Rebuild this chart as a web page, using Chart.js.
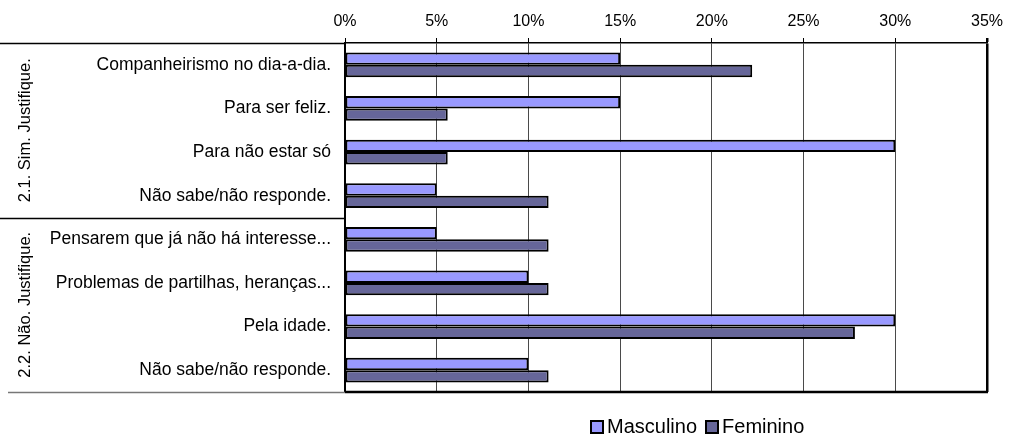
<!DOCTYPE html>
<html>
<head>
<meta charset="utf-8">
<script src="https://cdn.jsdelivr.net/npm/chart.js@4/dist/chart.umd.min.js"></script>
<style>
  html, body { margin: 0; padding: 0; background: #fff; }
  #wrap { position: relative; width: 1011px; height: 440px; }
  #legend {
    position: absolute; left: 590px; top: 415px;
    font: 20px "Liberation Sans", Arial, sans-serif; color: #000;
    display: flex; align-items: center; white-space: nowrap;
  }
  #legend .box {
    display: inline-block; width: 10px; height: 10px;
    border: 2px solid #000; margin-right: 3px;
  }
  #legend .item { display: inline-flex; align-items: center; margin-right: 8px; }
</style>
</head>
<body>
<div id="wrap">
  <canvas id="chart" width="1011" height="440"></canvas>
  <div id="legend"></div>
</div>
<script>
// categories, top to bottom
const categories = [
  "Companheirismo no dia-a-dia.",
  "Para ser feliz.",
  "Para não estar só",
  "Não sabe/não responde.",
  "Pensarem que já não há interesse...",
  "Problemas de partilhas, heranças...",
  "Pela idade.",
  "Não sabe/não responde."
];
// group labels and how many categories each one spans
const groupLabels = ["2.1. Sim. Justifique.", "2.2. Não. Justifique."];
const groupSizes = [4, 4];

const seriesNames = ["Masculino", "Feminino"];
const masculino = [15, 15, 30, 5, 5, 10, 30, 10];
const feminino = [22.2, 5.6, 5.6, 11.1, 11.1, 11.1, 27.8, 11.1];

const xTicks = [0, 5, 10, 15, 20, 25, 30, 35];
const colors = ["#9999FF", "#666699"];

const FONT = '"Liberation Sans", Arial, sans-serif';

// group separator lines and the rotated group titles on the left
const groupPlugin = {
  id: "groups",
  afterDraw(chart) {
    const ctx = chart.ctx;
    const y = chart.scales.y;
    const area = chart.chartArea;
    const half = (y.getPixelForValue(1) - y.getPixelForValue(0)) / 2;
    ctx.save();
    ctx.strokeStyle = "#000";
    ctx.lineWidth = 1.5;
    let start = 0;
    const bounds = [area.top];
    groupSizes.forEach((n, i) => {
      const top = y.getPixelForValue(start) - half;
      const bottom = y.getPixelForValue(start + n - 1) + half;
      bounds.push(bottom);
      ctx.save();
      ctx.translate(25, (top + bottom) / 2);
      ctx.rotate(-Math.PI / 2);
      ctx.fillStyle = "#000";
      ctx.font = "16.5px " + FONT;
      ctx.textAlign = "center";
      ctx.textBaseline = "middle";
      ctx.fillText(groupLabels[i], 0, 0);
      ctx.restore();
      start += n;
    });
    bounds.forEach((b, i) => {
      ctx.beginPath();
      ctx.strokeStyle = i === bounds.length - 1 ? "#777" : "#000";
      ctx.moveTo(i === bounds.length - 1 ? 8 : 0, Math.round(b) + 0.5);
      ctx.lineTo(area.left, Math.round(b) + 0.5);
      ctx.stroke();
    });
    // bottom border of plot
    ctx.beginPath();
    ctx.strokeStyle = "#000";
    ctx.lineWidth = 2.5;
    ctx.moveTo(area.left, area.bottom);
    ctx.lineTo(area.right + 1, area.bottom);
    ctx.stroke();
    ctx.restore();
  }
};

new Chart(document.getElementById("chart"), {
  type: "bar",
  data: {
    labels: categories,
    datasets: [
      {
        label: seriesNames[0],
        data: masculino,
        backgroundColor: colors[0],
        borderColor: "#000",
        borderWidth: 2,
        borderSkipped: false,
        categoryPercentage: 0.57,
        barPercentage: 1.0
      },
      {
        label: seriesNames[1],
        data: feminino,
        backgroundColor: colors[1],
        borderColor: "#000",
        borderWidth: 2,
        borderSkipped: false,
        categoryPercentage: 0.57,
        barPercentage: 1.0
      }
    ]
  },
  options: {
    indexAxis: "y",
    responsive: false,
    animation: false,
    layout: { padding: { top: 0, right: 24, bottom: 48, left: 0 } },
    plugins: {
      legend: { display: false },
      tooltip: { enabled: false }
    },
    scales: {
      x: {
        position: "top",
        min: 0,
        max: 35,
        afterBuildTicks: (scale) => {
          scale.ticks = xTicks.map((v) => ({ value: v }));
        },
        afterFit: (scale) => { scale.height = 43; },
        ticks: {
          color: "#000",
          font: { family: FONT, size: 16 },
          padding: 7,
          maxRotation: 0,
          callback: (v) => v + "%"
        },
        grid: {
          color: (c) => (c.tick && c.tick.value === 35 ? "#000" : "#4a4a4a"),
          lineWidth: (c) => (c.tick && c.tick.value === 35 ? 2.5 : 1),
          tickColor: "#000",
          tickLength: 5,
          drawOnChartArea: true
        },
        border: { color: "#000", width: 1.5 }
      },
      y: {
        afterFit: (scale) => { scale.width = 345; },
        ticks: {
          color: "#000",
          font: { family: FONT, size: 17.5 },
          padding: 6,
          autoSkip: false
        },
        grid: { display: false },
        border: { color: "#000", width: 2 }
      }
    }
  },
  plugins: [groupPlugin]
});

// legend below the plot
const legend = document.getElementById("legend");
seriesNames.forEach((name, i) => {
  const item = document.createElement("span");
  item.className = "item";
  const box = document.createElement("span");
  box.className = "box";
  box.style.background = colors[i];
  item.appendChild(box);
  item.appendChild(document.createTextNode(name));
  legend.appendChild(item);
});
</script>
</body>
</html>
